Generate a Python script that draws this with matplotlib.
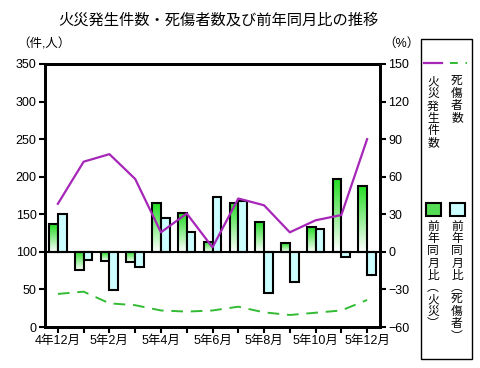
import numpy as np
import matplotlib
matplotlib.use('Agg')
from matplotlib import pyplot as plt
from matplotlib.colors import LinearSegmentedColormap
from matplotlib.lines import Line2D
from matplotlib.patches import Rectangle

plt.rcParams['font.family'] = ['Liberation Sans', 'Noto Sans CJK JP', 'DejaVu Sans']

# data
months = ['4年12月', '5年1月', '5年2月', '5年3月', '5年4月', '5年5月', '5年6月',
          '5年7月', '5年8月', '5年9月', '5年10月', '5年11月', '5年12月']
fires = [164, 220, 230, 197, 126, 151, 106, 171, 162, 126, 142, 149, 250]
casualties = [44, 47, 31.5, 29, 22, 20.5, 22, 27, 19.5, 16, 19, 22, 36]
fire_yoy = [22, -14.5, -7, -8, 38.8, 30.8, 8, 39.3, 24, 6.8, 19.6, 58.5, 52.9]
cas_yoy = [30, -6.5, -30.4, -12.3, 27.3, 16, 44, 40.6, -33, -24.3, 18.5, -4.3, -18.7]

PURPLE = '#A626B8'
GREEN_LINE = '#33BB33'
CYAN = '#CCFFFF'

fig = plt.figure(figsize=(4.8, 3.68), dpi=100)
ax = fig.add_axes([45/480, 41/368, 335/480, 263/368])
ax2 = ax.twinx()
x = np.arange(len(months))
w = 0.34

# bars on the percent axis (drawn first, below the lines)
cmap = LinearSegmentedColormap.from_list('g', ['#FFFFFF', '#22DD22'])
grad = np.linspace(0, 1, 64).reshape(-1, 1)
for i, v in enumerate(fire_yoy):
    lo, hi = min(0, v), max(0, v)
    ax.imshow(grad, cmap=cmap, origin='lower', aspect='auto',
              extent=(x[i] - w, x[i], lo, hi), zorder=2)
ax.bar(x - w / 2, fire_yoy, w, fill=False, edgecolor='black', linewidth=1.5, zorder=3)
ax.bar(x + w / 2, cas_yoy, w, color=CYAN, edgecolor='black', linewidth=1.5, zorder=3)
ax.axhline(0, color='black', linewidth=1.5, zorder=4)

ax.set_xlim(-0.5, len(months) - 0.5)
ax.set_ylim(-60, 150)
ax.yaxis.tick_right()
ax.set_yticks(np.arange(-60, 151, 30))
ax.set_xticks(x)
ax.set_xticklabels([m if i % 2 == 0 else '' for i, m in enumerate(months)])
ax.tick_params(axis='both', direction='out', length=4, width=1.5, labelsize=9, pad=2)

# lines on the count axis
ax2.plot(x, fires, color=PURPLE, linewidth=1.6, zorder=5)
ax2.plot(x, casualties, color=GREEN_LINE, linewidth=1.4, dashes=(6, 4), zorder=5)
ax2.set_ylim(0, 350)
ax2.yaxis.tick_left()
ax2.set_yticks(np.arange(0, 351, 50))
ax2.tick_params(axis='y', direction='out', length=4, width=1.5, labelsize=9, pad=2)
ax2.set_xlim(-0.5, len(months) - 0.5)

for a in (ax, ax2):
    for s in a.spines.values():
        s.set_linewidth(2)

fig.text(0.455, 0.945, '火災発生件数・死傷者数及び前年同月比の推移',
         ha='center', va='center', fontsize=11)
fig.text(17/480, 1 - 44/368, '（件,人）', ha='left', va='center', fontsize=9)
fig.text(383/480, 1 - 44/368, '（%）', ha='left', va='center', fontsize=9)

# legend box
H = 368
fig.patches.append(Rectangle((421/480, 1 - 359/H), 51/480, 320/H, transform=fig.transFigure,
                             fill=False, edgecolor='black', linewidth=1))
fig.lines.append(Line2D([424/480, 442/480], [1 - 63/H, 1 - 63/H], transform=fig.transFigure,
                        color=PURPLE, linewidth=1.6))
fig.lines.append(Line2D([450/480, 467/480], [1 - 63/H, 1 - 63/H], transform=fig.transFigure,
                        color=GREEN_LINE, linewidth=1.4, dashes=(4, 4)))
gy0 = 1 - 216/H
fig.patches.append(Rectangle((426/480, gy0), 15/480, 13/H, transform=fig.transFigure,
                             facecolor='#55DD55', edgecolor='black', linewidth=1.5))
fig.patches.append(Rectangle((450/480, gy0), 15/480, 13/H, transform=fig.transFigure,
                             facecolor=CYAN, edgecolor='black', linewidth=1.5))

def vtext(xp, yp, s):
    fig.text(xp/480, 1 - yp/H, '\n'.join(s), ha='center', va='top',
             fontsize=8.5, linespacing=1.02)

vtext(433, 76, '火災発生件数')
vtext(457, 76, '死傷者数')
vtext(433, 221, '前年同月比︵火災︶')
vtext(457, 221, '前年同月比︵死傷者︶')

fig.savefig('out.png', dpi=100)
